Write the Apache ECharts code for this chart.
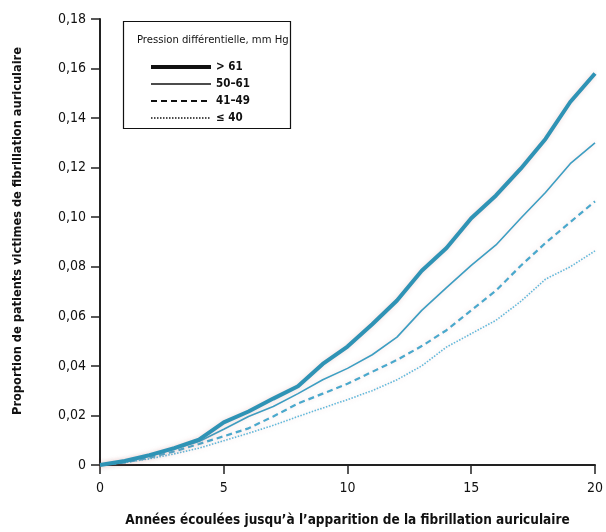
<!DOCTYPE html>
<html><head><meta charset="utf-8">
<script src="https://cdn.jsdelivr.net/npm/echarts@6/dist/echarts.min.js"></script>
<style>html,body{margin:0;padding:0;background:#fff}#c{width:606px;height:532px}</style>
</head><body><div id="c"></div>
<script>
const years = [0,1,2,3,4,5,6,7,8,9,10,11,12,13,14,15,16,17,18,19,20];
const seriesNames = ['> 61','50–61','41–49','≤ 40'];
const p61 = [0,0.0016,0.004,0.0068,0.0102,0.0172,0.0216,0.0268,0.0318,0.0408,0.0478,0.0568,0.0664,0.0784,0.0876,0.0996,0.1088,0.1196,0.1316,0.1465,0.158];
const p50 = [0,0.0013,0.0035,0.0065,0.0095,0.0144,0.0196,0.0236,0.0288,0.0344,0.039,0.0445,0.0516,0.0624,0.0716,0.0806,0.0888,0.0996,0.110,0.1216,0.130];
const p41 = [0,0.001,0.003,0.0055,0.0085,0.0116,0.0148,0.0196,0.0248,0.0288,0.0328,0.0376,0.0424,0.048,0.0544,0.0624,0.0704,0.0804,0.0896,0.098,0.1064];
const p40 = [0,0.001,0.0025,0.0045,0.0068,0.0098,0.0128,0.016,0.0196,0.023,0.0264,0.030,0.0344,0.040,0.0476,0.053,0.0584,0.066,0.075,0.080,0.0864];
const xTicks = [0,5,10,15,20];
const yTicks = [0,0.02,0.04,0.06,0.08,0.10,0.12,0.14,0.16,0.18];

const FONT = '"DejaVu Sans Condensed", "Liberation Sans", Arial, sans-serif';
const pairs = arr => years.map((x,i)=>[x,arr[i]]);
const styles = [
  {color:'#2f93b5', width:4, type:'solid', lw:4},
  {color:'#3d9ec2', width:1.6, type:'solid', lw:1.6},
  {color:'#4aa8cc', width:2.2, type:[6,4], lw:1.8},
  {color:'#62b8da', width:1.6, type:[1.5,1.5], lw:1.3}
];
const datas = [p61,p50,p41,p40];
const chart = echarts.init(document.getElementById('c'), null, {renderer:'canvas'});
chart.setOption({
  animation:false,
  backgroundColor:'#fff',
  grid:{left:100, right:6, top:19, bottom:63, containLabel:false},
  title:{text:'Pression différentielle, mm Hg', left:137, top:35, padding:0,
    textStyle:{fontFamily:FONT, fontSize:11.2, fontWeight:'normal', color:'#111'}},
  legend:{
    orient:'vertical', left:149, top:61, itemWidth:60, itemHeight:11, itemGap:5, padding:0,
    data:seriesNames.map((n,i)=>({name:n,
      lineStyle:{color:'#111', width:styles[i].lw, type:styles[i].type, shadowBlur:0, shadowColor:'transparent'},
      itemStyle:{opacity:0}})),
    itemStyle:{opacity:0},
    textStyle:{fontFamily:FONT, fontSize:11.5, color:'#111', fontWeight:'bold'}
  },
  graphic:[{type:'rect', left:121, top:19, shape:{width:167, height:107},
    style:{fill:'none', stroke:'#111', lineWidth:1.2}, z:10}],
  xAxis:{
    type:'value', min:0, max:20, interval:5,
    name:'Années écoulées jusqu’à l’apparition de la fibrillation auriculaire',
    nameLocation:'middle', nameGap:48,
    nameTextStyle:{fontFamily:FONT, fontSize:13.5, fontWeight:'bold', color:'#111'},
    axisLine:{lineStyle:{color:'#222', width:2}},
    axisTick:{show:true, length:9, lineStyle:{color:'#222', width:1.5}},
    axisLabel:{fontFamily:FONT, fontSize:14, color:'#111', margin:16,
      formatter:v=> xTicks.includes(v) ? String(v) : ''},
    splitLine:{show:false}
  },
  yAxis:{
    type:'value', min:0, max:0.18, interval:0.02,
    name:'Proportion de patients victimes de fibrillation auriculaire',
    nameLocation:'middle', nameGap:76, nameRotate:90,
    nameTextStyle:{fontFamily:FONT, fontSize:12.7, fontWeight:'bold', color:'#111', padding:[0,0,0,22]},
    axisLine:{show:true, lineStyle:{color:'#222', width:2}},
    axisTick:{show:true, length:9, lineStyle:{color:'#222', width:1.5}},
    axisLabel:{fontFamily:FONT, fontSize:14, color:'#111', margin:14,
      formatter:v=>{ const t = yTicks.find(k=>Math.abs(k-v)<1e-9); if(t===undefined) return ''; return t===0?'0':t.toFixed(2).replace('.',','); }},
    splitLine:{show:false}
  },
  series: datas.map((d,i)=>({
    name:seriesNames[i], type:'line', data:pairs(d), showSymbol:false, symbol:'none',
    smooth:false, clip:false,
    lineStyle:{color:styles[i].color, width:styles[i].width, type:styles[i].type,
      shadowColor:'rgba(190,110,110,0.25)', shadowBlur:5},
    itemStyle:{color:styles[i].color},
    z:3-i
  }))
});
</script></body></html>
